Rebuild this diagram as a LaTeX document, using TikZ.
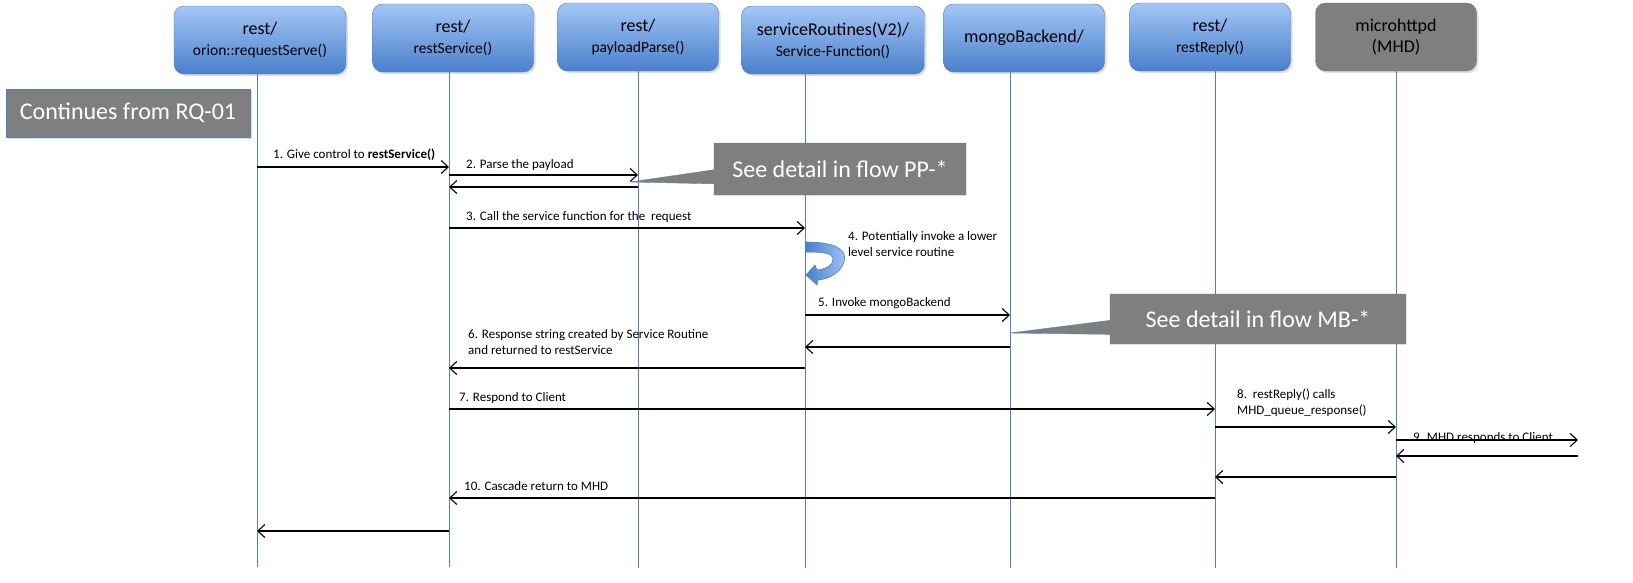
\documentclass[tikz,border=0pt]{standalone}
\usepackage{fontspec}
\setmainfont{Carlito}
\usepackage{tikz}
\usetikzlibrary{arrows.meta,shapes.callouts,shadows}

\definecolor{boxtop}{HTML}{A3C6F5}
\definecolor{boxbot}{HTML}{4A80CC}
\definecolor{lifeblue}{HTML}{4F81BD}
\definecolor{notegray}{HTML}{7F7F7F}

\newcommand{\callname}[1]{{\fontsize{15.5}{17}\selectfont #1}}

\begin{document}
\begin{tikzpicture}[
x=1pt, y=-1pt,
actorbase/.style={
rectangle,
rounded corners=10pt,
draw=lifeblue,
minimum width=161pt,
minimum height=68pt,
align=center,
font=\fontsize{18}{21}\selectfont,
drop shadow={opacity=0.25,shadow xshift=2pt,shadow yshift=-2pt}
},
actor/.style={
actorbase,
top color=boxtop,
bottom color=boxbot
},
mhdbox/.style={
actorbase,
fill=notegray
},
life/.style={
draw=lifeblue,
line width=0.9pt
},
msg/.style={
-{Straight Barb[length=7pt,width=13pt]},
line width=1.1pt
},
msglabel/.style={
anchor=base west,
inner sep=0pt,
align=left,
font=\fontsize{13}{16}\selectfont
},
notebox/.style={
rectangle,
fill=notegray,
draw=lifeblue,
text=white,
font=\fontsize{24}{27}\selectfont,
drop shadow={opacity=0.25,shadow xshift=2pt,shadow yshift=-2pt}
},
note/.style={
rectangle callout,
fill=notegray,
draw=lifeblue,
text=white,
callout pointer width=14pt,
font=\fontsize{24}{27}\selectfont
}
]
\useasboundingbox (0,0) rectangle (1633,582);

% heads of the lifelines
\node[actor, minimum width=172pt] (serve) at (260,40) {rest/\\\callname{orion::requestServe()}};
\node[actor] (restsvc) at (453,38) {rest/\\\callname{restService()}};
\node[actor] (parse) at (638,37) {rest/\\\callname{payloadParse()}};
\node[actor, minimum width=183pt] (routine) at (833,40) {serviceRoutines(V2)/\\\callname{Service-Function()}};
\node[actor] (mongo) at (1024,38) {mongoBackend/};
\node[actor] (reply) at (1210,37) {rest/\\\callname{restReply()}};
\node[mhdbox] (mhd) at (1396,37) {microhttpd\\(MHD)};

\node[notebox, minimum width=244pt, minimum height=48pt] (cont) at (128,113) {Continues from RQ-01};

% lifelines
\coordinate (l1) at (257,567);
\coordinate (l2) at (449,567);
\coordinate (l3) at (638,568);
\coordinate (l4) at (805,568);
\coordinate (l5) at (1010,568);
\coordinate (l6) at (1215,568);
\coordinate (l7) at (1396,568);
\coordinate (client) at (1578,440);

\draw[life] (serve.south -| l1) -- (l1);
\draw[life] (restsvc.south -| l2) -- (l2);
\draw[life] (parse.south -| l3) -- (l3);
\draw[life] (routine.south -| l4) -- (l4);
\draw[life] (mongo.south -| l5) -- (l5);
\draw[life] (reply.south -| l6) -- (l6);
\draw[life] (mhd.south -| l7) -- (l7);

% callouts
\node[note, minimum width=252pt, minimum height=52pt, callout absolute pointer={(630,182)}] (ppnote) at (840,169) {See detail in flow PP-*};
\node[note, minimum width=296pt, minimum height=50pt, callout absolute pointer={(1010,333)}] (mbnote) at (1258,319) {See detail in flow MB-*};

% messages
\draw[msg] (l1 |- 0,167) -- (l2 |- 0,167);
\draw[msg] (l2 |- 0,175) -- (l3 |- 0,175);
\draw[msg] (l3 |- 0,187) -- (l2 |- 0,187);
\draw[msg] (l2 |- 0,228) -- (l4 |- 0,228);
\draw[msg] (l4 |- 0,315) -- (l5 |- 0,315);
\draw[msg] (l5 |- 0,347) -- (l4 |- 0,347);
\draw[msg] (l4 |- 0,368) -- (l2 |- 0,368);
\draw[msg] (l2 |- 0,409) -- (l6 |- 0,409);
\draw[msg] (l6 |- 0,427) -- (l7 |- 0,427);
\draw[msg] (l7 |- client) -- (client);
\draw[msg] (client |- 0,456) -- (l7 |- 0,456);
\draw[msg] (l7 |- 0,477) -- (l6 |- 0,477);
\draw[msg] (l6 |- 0,498) -- (l2 |- 0,498);
\draw[msg] (l2 |- 0,531) -- (l1 |- 0,531);

% self call of the service routine
\shade[left color=boxbot, right color=boxtop, draw=lifeblue, line width=0.6pt]
(806,242) .. controls (836,242) and (848,250) .. (844,262)
.. controls (841,272) and (830,279) .. (818,280)
-- (817,285) -- (806,275) -- (815,265) -- (817,270)
.. controls (827,269) and (834,264) .. (833,258)
.. controls (832,253) and (822,252) .. (806,252) -- cycle;

% labels
\node[msglabel] (m1) at (273,158) {1. Give control to \textbf{restService()}};
\node[msglabel] (m2) at (466,168) {2. Parse the payload};
\node[msglabel] (m3) at (466,220) {3. Call the service function for the\ \ request};
\node[msglabel] (m4) at (848,256) {4. Potentially invoke a lower\\level service routine};
\node[msglabel] (m5) at (818,306) {5. Invoke mongoBackend};
\node[msglabel] (m6) at (468,354) {6. Response string created by Service Routine\\and returned to restService};
\node[msglabel] (m7) at (459,401) {7. Respond to Client};
\node[msglabel] (m8) at (1237,414) {8.\ \ restReply() calls\\MHD\_queue\_response()};
\node[msglabel] (m9) at (1413,441) {9. MHD responds to Client};
\node[msglabel] (m10) at (464,490) {10. Cascade return to MHD};

\end{tikzpicture}
\end{document}
